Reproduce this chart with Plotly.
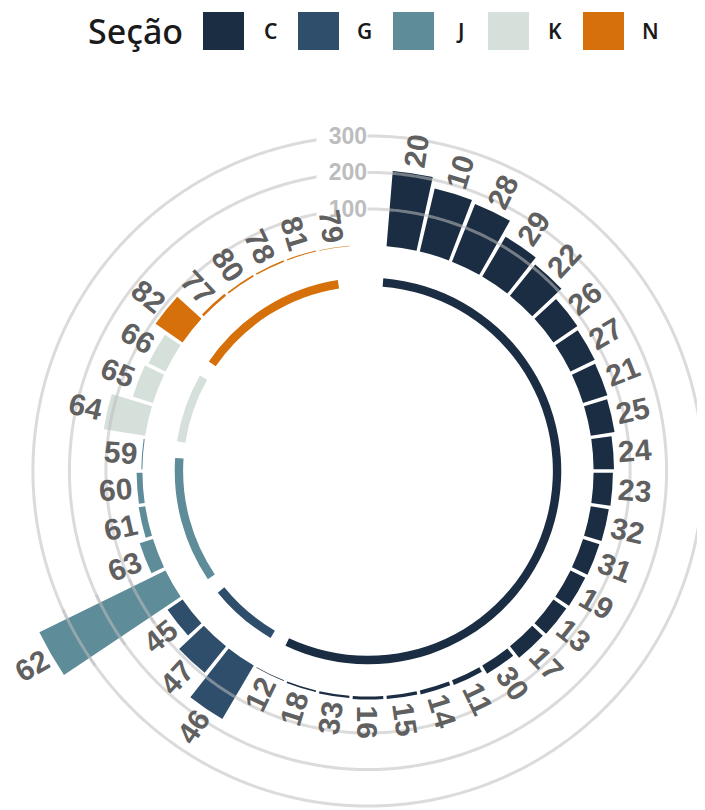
import math
import numpy as np
import plotly.graph_objects as go

# ---------------- data ----------------
groups = ["C", "G", "J", "K", "N"]
group_colors = ["#1b2d43", "#2f4e6b", "#5f8c99", "#d5e0db", "#d5700b"]

labels_C = ["20", "10", "28", "29", "22", "26", "27", "21", "25", "24", "23", "32",
            "31", "19", "13", "17", "30", "11", "14", "15", "16", "33", "18", "12"]
values_C = [207, 177, 170, 126, 110, 80, 74, 70, 66, 56, 53, 50,
            47, 45, 43, 40, 26, 14, 11, 9, 8, 6, 4, 2]
labels_G = ["46", "47", "45"]
values_G = [170, 93, 50]
labels_J = ["62", "63", "61", "60", "59"]
values_J = [385, 38, 18, 16, 3]
labels_K = ["64", "65", "66"]
values_K = [115, 58, 52]
labels_N = ["82", "77", "80", "78", "81", "79"]
values_N = [90, 7, 5, 4, 3, 1]

grid_values = [100, 200, 300]
legend_title = "Seção"

group_labels = [labels_C, labels_G, labels_J, labels_K, labels_N]
group_values = [values_C, values_G, values_J, values_K, values_N]

# ---------------- geometry ----------------
W, H = 705, 810
OFF = 8.0                      # page offset of the plot div (body margin)
CX, CY = 368.0 - OFF, 471.0 - OFF   # centre of the circle in figure pixels
PX_PER_UNIT = 0.365            # radial scale
R_CENTER = -618.0              # radial value at the centre
R1_PX = 344.0                  # radius of main polar
RMAX1 = R_CENTER + R1_PX / PX_PER_UNIT
RING_R = -100.0
RING_THICK = 23.0

LABEL_COLOR = "#606060"
LABEL_SIZE = 30
LABEL_GAP_PX = 5
LABEL_HALF_PX = 17

n_bars = sum(len(v) for v in group_values)
n_slots = n_bars + 1            # one empty slot at the top
step = 360.0 / n_slots

all_labels, all_values, all_theta, all_group = [], [], [], []
slot = 1
group_first, group_last = [], []
for gi, (labs, vals) in enumerate(zip(group_labels, group_values)):
    group_first.append(slot)
    for lab, val in zip(labs, vals):
        all_labels.append(lab)
        all_values.append(val)
        all_theta.append(slot * step)
        all_group.append(gi)
        slot += 1
    group_last.append(slot - 1)


def sector_bbox(sector):
    s0, s1 = sector
    arc = s1 - s0
    a0 = s0 % 360
    a1 = a0 + arc
    ax0, ay0 = math.cos(math.radians(a0)), math.sin(math.radians(a0))
    ax1, ay1 = math.cos(math.radians(a1)), math.sin(math.radians(a1))
    if (a0 <= 90 and a1 >= 90) or (a0 > 90 and a1 >= 450):
        y1 = 1
    elif ay0 <= 0 and ay1 <= 0:
        y1 = 0
    else:
        y1 = max(ay0, ay1)
    if (a0 <= 180 and a1 >= 180) or (a0 > 180 and a1 >= 540):
        x0 = -1
    elif ax0 >= 0 and ax1 >= 0:
        x0 = 0
    else:
        x0 = min(ax0, ax1)
    if (a0 <= 270 and a1 >= 270) or (a0 > 270 and a1 >= 630):
        y0 = -1
    elif ay0 >= 0 and ay1 >= 0:
        y0 = 0
    else:
        y0 = min(ay0, ay1)
    if a1 >= 360:
        x1 = 1
    elif ax0 <= 0 and ax1 <= 0:
        x1 = 0
    else:
        x1 = max(ax0, ax1)
    return [x0, y0, x1, y1]


def px_domain(x0, x1, ytop, ybot):
    return dict(x=[max(0.0, x0 / W), min(1.0, x1 / W)],
                y=[max(0.0, (H - ybot) / H), min(1.0, (H - ytop) / H)])


hidden_angular = dict(rotation=90, direction="clockwise", visible=False,
                      thetaunit="degrees", showgrid=False)

fig = go.Figure()
circle_theta = np.linspace(0, 360, 721)


def add_gridlines(subplot):
    for gv in grid_values:
        fig.add_trace(go.Scatterpolar(
            r=[gv] * len(circle_theta), theta=circle_theta, mode="lines",
            line=dict(color="rgba(190,190,190,0.55)", width=3),
            hoverinfo="skip", showlegend=False, subplot=subplot))


# ----- main bars -----
overflow = []
for gi, g in enumerate(groups):
    th = [t for t, gg, v in zip(all_theta, all_group, all_values) if gg == gi and v <= RMAX1]
    rr = [v for gg, v in zip(all_group, all_values) if gg == gi and v <= RMAX1]
    fig.add_trace(go.Barpolar(
        r=rr, theta=th, base=0, width=step * 0.9,
        marker=dict(color=group_colors[gi], line=dict(width=0)),
        name=g, showlegend=False, subplot="polar"))
    for t, gg, v in zip(all_theta, all_group, all_values):
        if gg == gi and v > RMAX1:
            overflow.append((t, v, gi))

# ring segments under each group
ring_start = [f - 0.47 for f in group_first]
ring_end = [l - 0.05 for l in group_last]
fig.add_trace(go.Barpolar(
    r=[RING_THICK] * len(groups),
    theta=[(s + e) / 2 * step for s, e in zip(ring_start, ring_end)],
    width=[(e - s) * step for s, e in zip(ring_start, ring_end)],
    base=RING_R - RING_THICK / 2,
    marker=dict(color=group_colors, line=dict(width=0)),
    showlegend=False, hoverinfo="skip", subplot="polar"))

add_gridlines("polar")

layout_polars = {}
layout_polars["polar"] = dict(
    domain=px_domain(CX - R1_PX, CX + R1_PX, CY - R1_PX, CY + R1_PX),
    bgcolor="rgba(0,0,0,0)",
    radialaxis=dict(range=[R_CENTER, RMAX1], visible=False),
    angularaxis=hidden_angular)

# ----- bars exceeding the main frame: extra wedge-shaped polar -----
for k, (t, v, gi) in enumerate(overflow):
    name = "polar%d" % (k + 2)
    std = 90 - t
    sector = [std - step * 0.65, std + step * 0.65]
    bb = sector_bbox(sector)
    rmax = v * 1.08
    R2 = (rmax - R_CENTER) * PX_PER_UNIT
    layout_polars[name] = dict(
        domain=px_domain(CX + bb[0] * R2, CX + bb[2] * R2, CY - bb[3] * R2, CY - bb[1] * R2),
        sector=sector, bgcolor="rgba(0,0,0,0)",
        radialaxis=dict(range=[R_CENTER, rmax], visible=False),
        angularaxis=hidden_angular)
    fig.add_trace(go.Barpolar(
        r=[v], theta=[t], base=0, width=step * 0.9,
        marker=dict(color=group_colors[gi], line=dict(width=0)),
        showlegend=False, subplot=name))
    add_gridlines(name)

# ----- invisible cartesian overlay in radial units (for labels) -----
RHO_MAX = R1_PX / PX_PER_UNIT
fig.add_trace(go.Scatter(x=[0], y=[0], mode="markers", marker=dict(opacity=0),
                         hoverinfo="skip", showlegend=False))
dom = layout_polars["polar"]["domain"]

annotations = []
for gv in grid_values:
    annotations.append(dict(
        x=0, y=gv - R_CENTER, xref="x", yref="y", text=str(gv), showarrow=False,
        xanchor="right", yanchor="middle", width=50, align="right", borderpad=0,
        bgcolor="white", font=dict(family="Liberation Sans", size=23,
                                   color="#bdbdbd", weight="bold")))

for lab, v, t in zip(all_labels, all_values, all_theta):
    rho = (v - R_CENTER) + (LABEL_GAP_PX + LABEL_HALF_PX) / PX_PER_UNIT
    a = math.radians(t)
    ang = t - 90 if t <= 180 else t - 270
    annotations.append(dict(
        x=rho * math.sin(a), y=rho * math.cos(a), xref="x", yref="y",
        text=lab, showarrow=False, textangle=ang,
        xanchor="center", yanchor="middle",
        font=dict(family="Liberation Sans", size=LABEL_SIZE, color=LABEL_COLOR,
                  weight="bold")))

# ----- legend (top) -----
shapes = []
LEG_Y = 31 - OFF
annotations.append(dict(x=(86 - OFF) / W, y=1 - LEG_Y / H, xref="paper", yref="paper",
                        text=legend_title, showarrow=False, xanchor="left",
                        yanchor="middle",
                        font=dict(family="Noto Sans", size=34, color="#1a1a1a",
                                  weight=500)))
for gi, g in enumerate(groups):
    x0 = 203 - OFF + 95 * gi
    shapes.append(dict(type="rect", xref="paper", yref="paper",
                       x0=x0 / W, x1=(x0 + 41) / W,
                       y0=1 - (50 - OFF) / H, y1=1 - (12 - OFF) / H,
                       fillcolor=group_colors[gi], line=dict(width=0)))
    annotations.append(dict(x=(x0 + 67) / W, y=1 - LEG_Y / H, xref="paper", yref="paper",
                            text=g, showarrow=False, xanchor="center",
                            yanchor="middle",
                            font=dict(family="Noto Sans", size=21, color="#1a1a1a",
                                      weight=600)))

fig.update_layout(
    width=W, height=H, autosize=False,
    margin=dict(l=0, r=0, t=0, b=0),
    paper_bgcolor="white", plot_bgcolor="rgba(0,0,0,0)",
    showlegend=False,
    xaxis=dict(domain=dom["x"], range=[-RHO_MAX, RHO_MAX], visible=False,
               fixedrange=True),
    yaxis=dict(domain=dom["y"], range=[-RHO_MAX, RHO_MAX], visible=False,
               fixedrange=True),
    annotations=annotations, shapes=shapes,
    **layout_polars)

fig.write_html("out.html")
